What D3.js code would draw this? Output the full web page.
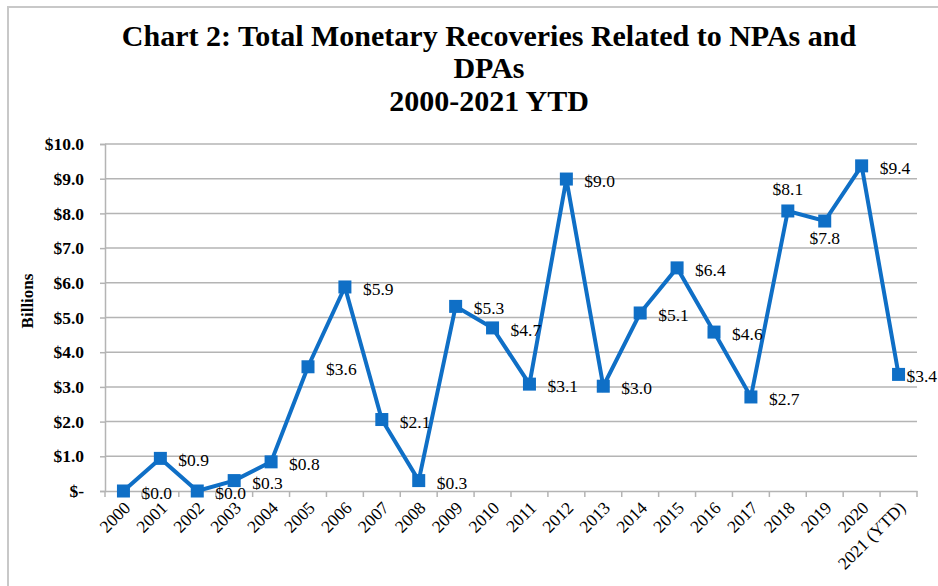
<!DOCTYPE html>
<html>
<head>
<meta charset="utf-8">
<script src="https://cdn.jsdelivr.net/npm/d3@7"></script>
<style>
  html, body { margin: 0; padding: 0; background: #fff; }
  svg { display: block; }
  text { font-family: "Liberation Serif", "Times New Roman", serif; }
</style>
</head>
<body>
<svg id="chart" width="938" height="586"></svg>
<script>
const categories = ["2000","2001","2002","2003","2004","2005","2006","2007","2008","2009","2010",
  "2011","2012","2013","2014","2015","2016","2017","2018","2019","2020","2021 (YTD)"];
const values = [0.0, 0.94, 0.0, 0.3, 0.84, 3.58, 5.88, 2.06, 0.3, 5.32, 4.7,
  3.08, 8.99, 3.02, 5.13, 6.43, 4.58, 2.71, 8.07, 7.78, 9.37, 3.36];
const dataLabels = ["$0.0","$0.9","$0.0","$0.3","$0.8","$3.6","$5.9","$2.1","$0.3","$5.3","$4.7",
  "$3.1","$9.0","$3.0","$5.1","$6.4","$4.6","$2.7","$8.1","$7.8","$9.4","$3.4"];
const yTicks = [0,1,2,3,4,5,6,7,8,9,10];
const yTickLabels = ["$-","$1.0","$2.0","$3.0","$4.0","$5.0","$6.0","$7.0","$8.0","$9.0","$10.0"];
const titleLines = ["Chart 2: Total Monetary Recoveries Related to NPAs and", "DPAs", "2000-2021 YTD"];
const yAxisTitle = "Billions";

const W = 938, H = 586;
const svg = d3.select("#chart");
const blue = "#0f6fc6";
const grid = "#b4b4b4";

// frame
svg.append("path").attr("d", `M8,${H} L8,7 L${W},7`).attr("fill","none")
  .attr("stroke","#c8c8c8").attr("stroke-width",2);

const plot = {left:105, right:917, top:144, bottom:491};

const x = d3.scaleBand().domain(categories).range([plot.left, plot.right]).paddingInner(0).paddingOuter(0);
const y = d3.scaleLinear().domain([0,10]).range([plot.bottom, plot.top]);
const cx = d => x(d) + x.bandwidth()/2;

// title
const title = svg.append("g");
const titleY = [46, 78, 111];
titleLines.forEach((t,i) => {
  title.append("text").attr("x", 489).attr("y", titleY[i]).attr("text-anchor","middle")
    .attr("font-weight","bold").attr("font-size", 30).attr("fill","#000").text(t);
});

// gridlines
svg.append("g").selectAll("line").data(yTicks.filter(d=>d>0)).join("line")
  .attr("x1", plot.left).attr("x2", plot.right)
  .attr("y1", d=>y(d)).attr("y2", d=>y(d))
  .attr("stroke", grid).attr("stroke-width", 1.5);

// y axis
const yAxis = d3.axisLeft(y).tickValues(yTicks).tickSize(5).tickPadding(16)
  .tickFormat((d,i)=>yTickLabels[i]);
const yg = svg.append("g").attr("transform",`translate(${plot.left},0)`).call(yAxis);
yg.select(".domain").attr("stroke", grid).attr("stroke-width",1.5);
yg.selectAll(".tick line").attr("stroke", grid).attr("stroke-width",1.5);
yg.selectAll(".tick text").attr("font-family","Liberation Serif, serif").attr("font-weight","bold")
  .attr("font-size",17.5).attr("fill","#000");

// x axis
const xAxis = d3.axisBottom(x).tickSize(0).tickFormat(d=>d);
const xg = svg.append("g").attr("transform",`translate(0,${plot.bottom})`).call(xAxis);
xg.select(".domain").attr("stroke", grid).attr("stroke-width",1.5);
// boundary ticks
const bounds = categories.map(c => x(c)).concat([plot.right]);
xg.selectAll(".btick").data(bounds).join("line").attr("class","btick")
  .attr("x1",d=>d).attr("x2",d=>d).attr("y1",0).attr("y2",6)
  .attr("stroke",grid).attr("stroke-width",1.5);
xg.selectAll(".tick text")
  .attr("font-family","Liberation Serif, serif").attr("font-size",17.5).attr("fill","#000")
  .attr("text-anchor","end").attr("dy",null).attr("y",0)
  .attr("transform","translate(8,18) rotate(-45)");

// line
const line = d3.line().x((d,i)=>cx(categories[i])).y(d=>y(d));
svg.append("path").datum(values).attr("d", line).attr("fill","none")
  .attr("stroke", blue).attr("stroke-width", 4).attr("stroke-linejoin","miter");

// markers
const ms = 13;
svg.append("g").selectAll("rect").data(values).join("rect")
  .attr("x",(d,i)=>cx(categories[i]) - ms/2).attr("y", d=>y(d)-ms/2)
  .attr("width",ms).attr("height",ms).attr("fill",blue);

// data labels
const lg = svg.append("g");
values.forEach((v,i) => {
  const px = cx(categories[i]), py = y(v);
  const t = lg.append("text").attr("font-size",17.5).attr("fill","#000")
    .attr("dominant-baseline","central").text(dataLabels[i]);
  if (i === 18) { t.attr("x",px).attr("y",py-22).attr("text-anchor","middle"); }
  else if (i === 19) { t.attr("x",px).attr("y",py+17).attr("text-anchor","middle"); }
  else {
    let lx = px + 18;
    const w = t.node().getComputedTextLength();
    if (lx + w > W - 1) lx = W - 1 - w;
    t.attr("x",lx).attr("y",py+2);
  }
});

// y axis title
svg.append("text").attr("transform","translate(33,301) rotate(-90)")
  .attr("text-anchor","middle").attr("font-weight","bold").attr("font-size",17)
  .attr("fill","#000").text(yAxisTitle);
</script>
</body>
</html>
